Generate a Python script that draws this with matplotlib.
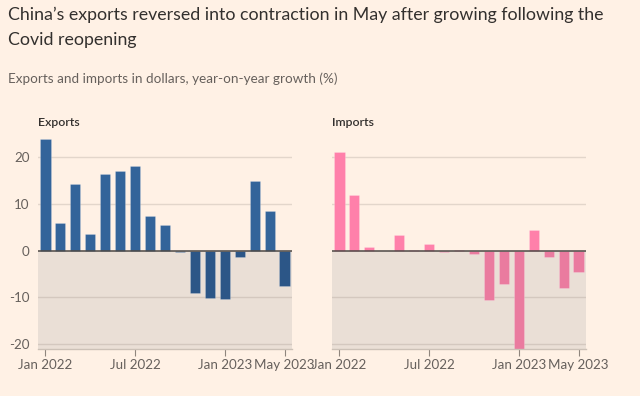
import matplotlib
matplotlib.use("Agg")
import matplotlib.pyplot as plt
import numpy as np

months = ["Jan 2022", "Feb 2022", "Mar 2022", "Apr 2022", "May 2022", "Jun 2022",
          "Jul 2022", "Aug 2022", "Sep 2022", "Oct 2022", "Nov 2022", "Dec 2022",
          "Jan 2023", "Feb 2023", "Mar 2023", "Apr 2023", "May 2023"]
exports = [23.9, 6.0, 14.3, 3.5, 16.4, 17.1, 18.1, 7.4, 5.5, -0.4, -9.1, -10.1,
           -10.4, -1.3, 14.8, 8.5, -7.5]
imports = [21.1, 11.8, 0.7, 0.0, 3.4, 0.1, 1.4, -0.4, 0.1, -0.8, -10.6, -7.2,
           -21.2, 4.4, -1.4, -7.9, -4.5]
tick_idx = [0, 6, 12, 16]
tick_labels = ["Jan 2022", "Jul 2022", "Jan 2023", "May 2023"]
yticks = [-20, -10, 0, 10, 20]

BG = "#FFF1E5"
SHADE = "#EADFD6"
GRID = "#E3D6CB"
GRID_SHADE = "#D4C8BF"
TXT = "#33302E"
GREY = "#66605C"

plt.rcParams['font.family'] = ['Lato', 'DejaVu Sans']

fig = plt.figure(figsize=(6.4, 3.96), dpi=100, facecolor=BG)

ylo, yhi = -21.0, 25.0
bottom = (396 - 349) / 396
height = (yhi - ylo) * 4.685 / 396

panels = [
    (38 / 640, exports, "#33649A", "#2C5687", "Exports", True),
    (332 / 640, imports, "#FF80AA", "#EA7B9F", "Imports", False),
]

x = np.arange(len(months))
for left, vals, cpos, cneg, name, showy in panels:
    ax = fig.add_axes([left, bottom, 254 / 640, height])
    ax.set_facecolor("none")
    ax.set_xlim(-0.5, 16.5)
    ax.set_ylim(ylo, yhi)
    ax.axhspan(ylo, 0, color=SHADE, zorder=0, lw=0)
    for yv in [10, 20]:
        ax.axhline(yv, color=GRID, lw=1.0, zorder=1)
    for yv in [-10, -20]:
        ax.axhline(yv, color=GRID_SHADE, lw=1.0, zorder=1)
    vals = np.array(vals)
    cols = [cpos if v >= 0 else cneg for v in vals]
    ax.bar(x, vals, width=0.68, color=cols, zorder=2,
           edgecolor=(1, 1, 1, 0.25), linewidth=0.5)
    ax.axhline(0, color="#4D4845", lw=1.1, zorder=3)
    for s in ["top", "right", "left"]:
        ax.spines[s].set_visible(False)
    ax.spines["bottom"].set_color("#CCC1B7")
    ax.spines["bottom"].set_linewidth(1.0)
    ax.set_xticks(tick_idx)
    ax.set_xticklabels(tick_labels)
    ax.tick_params(axis="x", length=5, color="#8F857D", labelcolor=GREY,
                   labelsize=9.6, pad=2)
    ax.set_yticks(yticks)
    if showy:
        ax.set_yticklabels([str(v) for v in yticks])
        ax.tick_params(axis="y", length=0, labelcolor=GREY, labelsize=9.6, pad=6)
    else:
        ax.set_yticklabels([])
        ax.tick_params(axis="y", length=0)
    fig.text(left, 1 - 123 / 396, name, fontsize=8.8, color=TXT,
             fontweight="semibold", va="center", ha="left")

fig.text(8 / 640, 1 - 15 / 396, "China\u2019s exports reversed into contraction in May after growing following the",
         fontsize=12.8, color=TXT, va="center", ha="left")
fig.text(8 / 640, 1 - 40 / 396, "Covid reopening",
         fontsize=12.8, color=TXT, va="center", ha="left")
fig.text(8 / 640, 1 - 79 / 396, "Exports and imports in dollars, year-on-year growth (%)",
         fontsize=9.7, color=GREY, va="center", ha="left")

fig.savefig("out.png", dpi=100, facecolor=BG)
